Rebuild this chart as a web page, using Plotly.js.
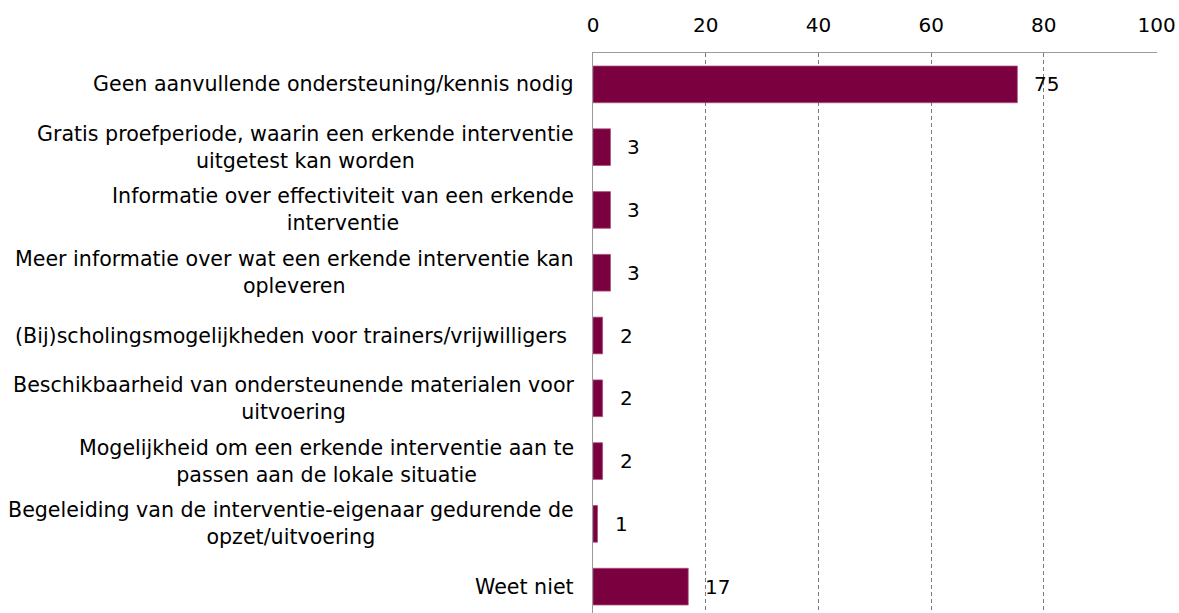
<!DOCTYPE html>
<html>
<head>
<meta charset="utf-8">
<script src="https://cdn.plot.ly/plotly-3.0.1.min.js"></script>
<style>
  html, body { margin: 0; padding: 0; background: #fff; }
  #chart { width: 1179px; height: 613px; }
</style>
</head>
<body>
<div id="chart"></div>
<script>
var categories = [
  'Geen aanvullende ondersteuning/kennis nodig',
  'Gratis proefperiode, waarin een erkende interventie<br>uitgetest kan worden',
  'Informatie over effectiviteit van een erkende<br>interventie',
  'Meer informatie over wat een erkende interventie kan<br>opleveren',
  '(Bij)scholingsmogelijkheden voor trainers/vrijwilligers ',
  'Beschikbaarheid van ondersteunende materialen voor<br>uitvoering',
  'Mogelijkheid om een erkende interventie aan te<br>passen aan de lokale situatie',
  'Begeleiding van de interventie-eigenaar gedurende de<br>opzet/uitvoering',
  'Weet niet'
];
var values = [75.3, 3.1, 3.1, 3.1, 1.7, 1.7, 1.7, 0.8, 16.9];
var xTicks = [0, 20, 40, 60, 80, 100];

var fontFamily = 'DejaVu Sans, sans-serif';

var bars = {
  type: 'bar',
  orientation: 'h',
  x: values,
  y: categories,
  marker: {
    color: '#7b003f',
    line: { color: '#a8527c', width: 0.75 }
  },
  hoverinfo: 'skip'
};

var annotations = [];
categories.forEach(function (cat, i) {
  // category label, centred block to the left of the axis
  annotations.push({
    text: cat,
    x: 0,
    xref: 'paper',
    xanchor: 'right',
    xshift: -17,
    y: cat,
    yref: 'y',
    yanchor: 'middle',
    align: 'center',
    showarrow: false,
    font: { size: 20.6, color: '#000', family: fontFamily }
  });
  // value label
  annotations.push({
    text: String(Math.round(values[i])),
    x: values[i],
    xref: 'x',
    xanchor: 'left',
    xshift: 15,
    y: cat,
    yref: 'y',
    showarrow: false,
    font: { size: 20, color: '#000', family: fontFamily }
  });
});

var layout = {
  width: 1179,
  height: 613,
  margin: { l: 593, r: 22, t: 53, b: 0 },
  paper_bgcolor: '#fff',
  plot_bgcolor: '#fff',
  showlegend: false,
  bargap: 0.415,
  font: { family: fontFamily, size: 20, color: '#000' },
  xaxis: {
    side: 'top',
    range: [0, 100.08],
    tickvals: xTicks,
    ticktext: xTicks.map(String),
    ticks: '',
    ticklabelstandoff: 12,
    showgrid: true,
    gridcolor: '#7a7a7a',
    griddash: '4px,3px',
    gridwidth: 1.2,
    zeroline: false,
    showline: true,
    linecolor: '#9a9a9a',
    linewidth: 1.5,
    tickfont: { size: 20, family: fontFamily }
  },
  yaxis: {
    type: 'category',
    range: [8.42, -0.5],
    showticklabels: false,
    ticks: '',
    showgrid: false,
    zeroline: false,
    showline: true,
    linecolor: '#9a9a9a',
    linewidth: 1.5
  },
  annotations: annotations
};

Plotly.newPlot('chart', [bars], layout, { displayModeBar: false, staticPlot: true });
</script>
</body>
</html>
